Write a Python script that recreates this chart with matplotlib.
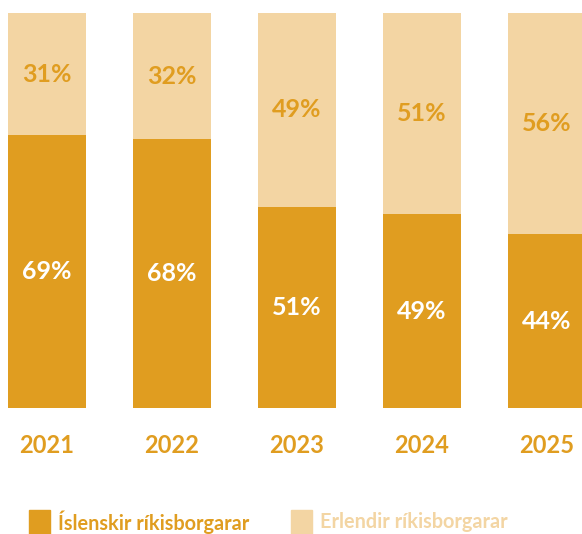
import matplotlib.pyplot as plt
from matplotlib.patches import Rectangle

years = ['2021', '2022', '2023', '2024', '2025']
icelandic = [69, 68, 51, 49, 44]
foreign = [31, 32, 49, 51, 56]
legend_labels = ['Íslenskir ríkisborgarar', 'Erlendir ríkisborgarar']

dark = '#E09D20'
light = '#F3D5A3'

plt.rcParams['font.family'] = ['Lato', 'DejaVu Sans']
plt.rcParams['font.weight'] = 'bold'

fig = plt.figure(figsize=(5.82, 5.34), dpi=100)
ax = fig.add_axes([0, 126 / 534, 1, 395 / 534])

x = list(range(len(years)))
w = 78 / 125
ax.bar(x, icelandic, width=w, color=dark)
ax.bar(x, foreign, width=w, bottom=icelandic, color=light)

for i in x:
    ax.text(i, icelandic[i] / 2, f'{icelandic[i]}%', ha='center', va='center',
            color='white', fontsize=18, fontweight='bold')
    ax.text(i, icelandic[i] + foreign[i] / 2, f'{foreign[i]}%', ha='center',
            va='center', color=dark, fontsize=18, fontweight='bold')
    ax.text(i, -9.6, years[i], ha='center', va='center', color=dark,
            fontsize=17, fontweight='bold')

ax.set_xlim(-47 / 125, -47 / 125 + 582 / 125)
ax.set_ylim(0, 100)
ax.axis('off')

# legend
fig.patches.append(Rectangle((29 / 582, 0), 21 / 582, 24 / 534,
                             transform=fig.transFigure, color=dark))
fig.patches.append(Rectangle((291 / 582, 0), 21 / 582, 24 / 534,
                             transform=fig.transFigure, color=light))
fig.text(58 / 582, 12 / 534, legend_labels[0], color=dark, fontsize=14.3,
         fontweight='bold', va='center', ha='left')
fig.text(320 / 582, 12 / 534, legend_labels[1], color=light, fontsize=14.3,
         fontweight='bold', va='center', ha='left')

fig.savefig('out.png', dpi=100)
